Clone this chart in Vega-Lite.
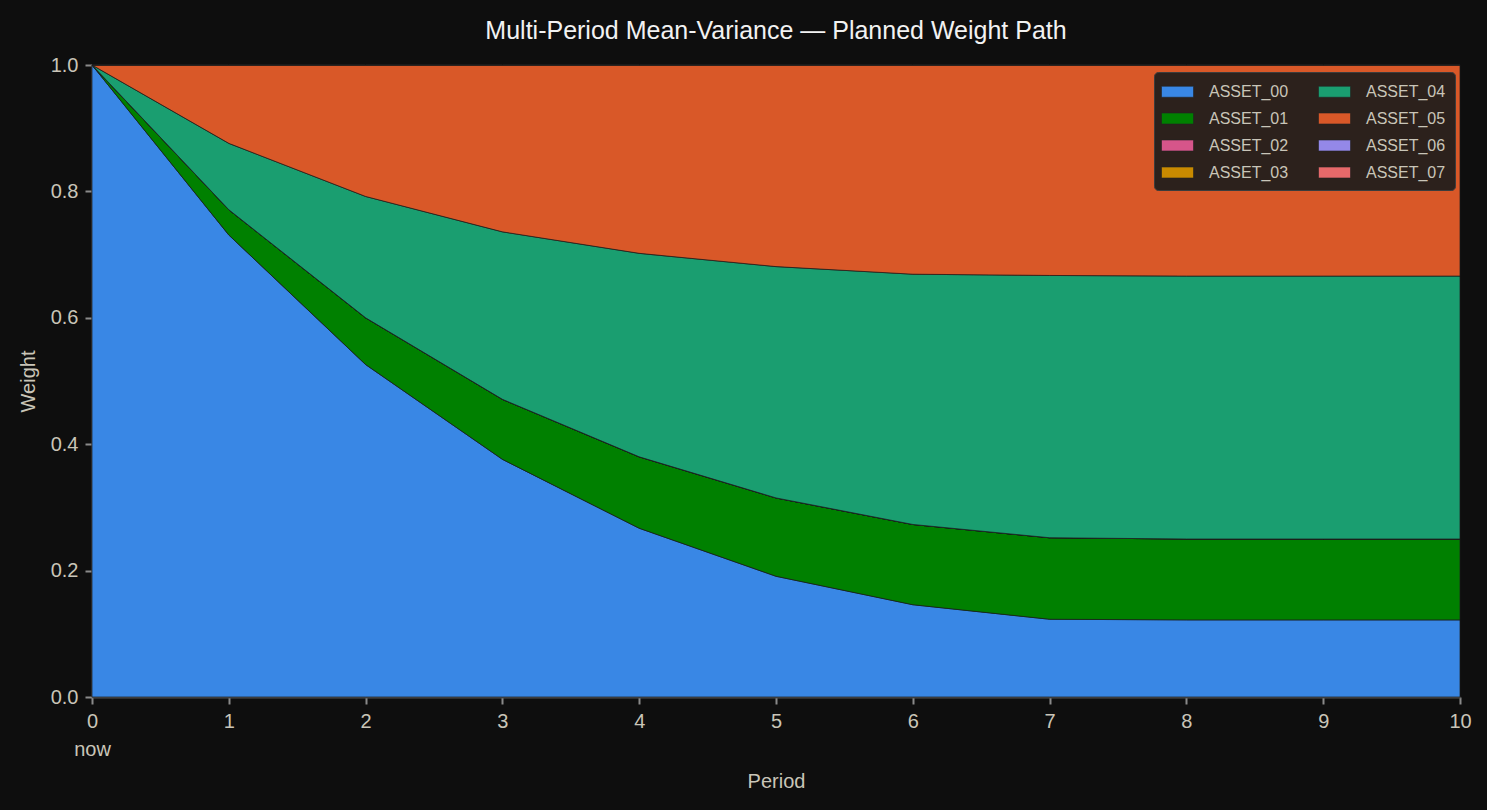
{
  "$schema": "https://vega.github.io/schema/vega-lite/v6.json",
  "autosize": "none",
  "width": 1368,
  "height": 632,
  "padding": {"left": 92, "top": 65, "right": 27, "bottom": 113},
  "background": "#0e0e0e",
  "config": {
    "font": "Liberation Sans",
    "view": {"stroke": null},
    "axis": {
      "domainColor": "#505050",
      "domainWidth": 2,
      "tickColor": "#8a8a8a",
      "tickWidth": 2,
      "tickSize": 7,
      "labelColor": "#c9c5b8",
      "labelFontSize": 20,
      "titleColor": "#c9c5b8",
      "titleFontSize": 20,
      "titleFontWeight": "normal",
      "grid": false
    }
  },
  "title": {
    "text": "Multi-Period Mean-Variance — Planned Weight Path",
    "anchor": "middle",
    "color": "#f2f2f2",
    "fontSize": 25,
    "fontWeight": "normal",
    "offset": 11
  },
  "data": {
    "values": [
      {"period": 0, "asset": "ASSET_00", "weight": 1.0},
      {"period": 0, "asset": "ASSET_01", "weight": 0.0},
      {"period": 0, "asset": "ASSET_02", "weight": 0.0},
      {"period": 0, "asset": "ASSET_03", "weight": 0.0},
      {"period": 0, "asset": "ASSET_04", "weight": 0.0},
      {"period": 0, "asset": "ASSET_05", "weight": 0.0},
      {"period": 0, "asset": "ASSET_06", "weight": 0.0},
      {"period": 0, "asset": "ASSET_07", "weight": 0.0},
      {"period": 1, "asset": "ASSET_00", "weight": 0.731},
      {"period": 1, "asset": "ASSET_01", "weight": 0.040},
      {"period": 1, "asset": "ASSET_02", "weight": 0.0},
      {"period": 1, "asset": "ASSET_03", "weight": 0.0},
      {"period": 1, "asset": "ASSET_04", "weight": 0.105},
      {"period": 1, "asset": "ASSET_05", "weight": 0.124},
      {"period": 1, "asset": "ASSET_06", "weight": 0.0},
      {"period": 1, "asset": "ASSET_07", "weight": 0.0},
      {"period": 2, "asset": "ASSET_00", "weight": 0.526},
      {"period": 2, "asset": "ASSET_01", "weight": 0.074},
      {"period": 2, "asset": "ASSET_02", "weight": 0.0},
      {"period": 2, "asset": "ASSET_03", "weight": 0.0},
      {"period": 2, "asset": "ASSET_04", "weight": 0.192},
      {"period": 2, "asset": "ASSET_05", "weight": 0.208},
      {"period": 2, "asset": "ASSET_06", "weight": 0.0},
      {"period": 2, "asset": "ASSET_07", "weight": 0.0},
      {"period": 3, "asset": "ASSET_00", "weight": 0.376},
      {"period": 3, "asset": "ASSET_01", "weight": 0.095},
      {"period": 3, "asset": "ASSET_02", "weight": 0.0},
      {"period": 3, "asset": "ASSET_03", "weight": 0.0},
      {"period": 3, "asset": "ASSET_04", "weight": 0.265},
      {"period": 3, "asset": "ASSET_05", "weight": 0.264},
      {"period": 3, "asset": "ASSET_06", "weight": 0.0},
      {"period": 3, "asset": "ASSET_07", "weight": 0.0},
      {"period": 4, "asset": "ASSET_00", "weight": 0.267},
      {"period": 4, "asset": "ASSET_01", "weight": 0.113},
      {"period": 4, "asset": "ASSET_02", "weight": 0.0},
      {"period": 4, "asset": "ASSET_03", "weight": 0.0},
      {"period": 4, "asset": "ASSET_04", "weight": 0.322},
      {"period": 4, "asset": "ASSET_05", "weight": 0.298},
      {"period": 4, "asset": "ASSET_06", "weight": 0.0},
      {"period": 4, "asset": "ASSET_07", "weight": 0.0},
      {"period": 5, "asset": "ASSET_00", "weight": 0.191},
      {"period": 5, "asset": "ASSET_01", "weight": 0.124},
      {"period": 5, "asset": "ASSET_02", "weight": 0.0},
      {"period": 5, "asset": "ASSET_03", "weight": 0.0},
      {"period": 5, "asset": "ASSET_04", "weight": 0.366},
      {"period": 5, "asset": "ASSET_05", "weight": 0.319},
      {"period": 5, "asset": "ASSET_06", "weight": 0.0},
      {"period": 5, "asset": "ASSET_07", "weight": 0.0},
      {"period": 6, "asset": "ASSET_00", "weight": 0.146},
      {"period": 6, "asset": "ASSET_01", "weight": 0.127},
      {"period": 6, "asset": "ASSET_02", "weight": 0.0},
      {"period": 6, "asset": "ASSET_03", "weight": 0.0},
      {"period": 6, "asset": "ASSET_04", "weight": 0.396},
      {"period": 6, "asset": "ASSET_05", "weight": 0.331},
      {"period": 6, "asset": "ASSET_06", "weight": 0.0},
      {"period": 6, "asset": "ASSET_07", "weight": 0.0},
      {"period": 7, "asset": "ASSET_00", "weight": 0.123},
      {"period": 7, "asset": "ASSET_01", "weight": 0.129},
      {"period": 7, "asset": "ASSET_02", "weight": 0.0},
      {"period": 7, "asset": "ASSET_03", "weight": 0.0},
      {"period": 7, "asset": "ASSET_04", "weight": 0.415},
      {"period": 7, "asset": "ASSET_05", "weight": 0.333},
      {"period": 7, "asset": "ASSET_06", "weight": 0.0},
      {"period": 7, "asset": "ASSET_07", "weight": 0.0},
      {"period": 8, "asset": "ASSET_00", "weight": 0.122},
      {"period": 8, "asset": "ASSET_01", "weight": 0.128},
      {"period": 8, "asset": "ASSET_02", "weight": 0.0},
      {"period": 8, "asset": "ASSET_03", "weight": 0.0},
      {"period": 8, "asset": "ASSET_04", "weight": 0.416},
      {"period": 8, "asset": "ASSET_05", "weight": 0.334},
      {"period": 8, "asset": "ASSET_06", "weight": 0.0},
      {"period": 8, "asset": "ASSET_07", "weight": 0.0},
      {"period": 9, "asset": "ASSET_00", "weight": 0.122},
      {"period": 9, "asset": "ASSET_01", "weight": 0.128},
      {"period": 9, "asset": "ASSET_02", "weight": 0.0},
      {"period": 9, "asset": "ASSET_03", "weight": 0.0},
      {"period": 9, "asset": "ASSET_04", "weight": 0.416},
      {"period": 9, "asset": "ASSET_05", "weight": 0.334},
      {"period": 9, "asset": "ASSET_06", "weight": 0.0},
      {"period": 9, "asset": "ASSET_07", "weight": 0.0},
      {"period": 10, "asset": "ASSET_00", "weight": 0.122},
      {"period": 10, "asset": "ASSET_01", "weight": 0.128},
      {"period": 10, "asset": "ASSET_02", "weight": 0.0},
      {"period": 10, "asset": "ASSET_03", "weight": 0.0},
      {"period": 10, "asset": "ASSET_04", "weight": 0.416},
      {"period": 10, "asset": "ASSET_05", "weight": 0.334},
      {"period": 10, "asset": "ASSET_06", "weight": 0.0},
      {"period": 10, "asset": "ASSET_07", "weight": 0.0}
    ]
  },
  "mark": {"type": "area", "stroke": "#1c1c1c", "strokeWidth": 0.8, "strokeOpacity": 0.9, "opacity": 1},
  "encoding": {
    "x": {
      "field": "period",
      "type": "quantitative",
      "title": "Period",
      "scale": {"domain": [0, 10], "nice": false, "zero": false},
      "axis": {
        "values": [0, 1, 2, 3, 4, 5, 6, 7, 8, 9, 10],
        "labelExpr": "datum.value == 0 ? ['0', 'now'] : datum.label",
        "labelFlush": false,
        "labelPadding": 7,
        "labelLineHeight": 28,
        "titlePadding": 12
      }
    },
    "y": {
      "field": "weight",
      "type": "quantitative",
      "aggregate": "sum",
      "stack": "zero",
      "title": "Weight",
      "scale": {"domain": [0, 1], "nice": false},
      "axis": {
        "values": [0, 0.2, 0.4, 0.6, 0.8, 1.0],
        "format": ".1f",
        "labelFlush": false,
        "labelPadding": 7,
        "titlePadding": 12
      }
    },
    "color": {
      "field": "asset",
      "type": "nominal",
      "scale": {
        "domain": ["ASSET_00", "ASSET_01", "ASSET_02", "ASSET_03", "ASSET_04", "ASSET_05", "ASSET_06", "ASSET_07"],
        "range": ["#3987e5", "#008000", "#d6558a", "#c98a00", "#1a9e70", "#d95828", "#9488e8", "#e6696a"]
      },
      "legend": {
        "title": null,
        "orient": "none",
        "legendX": 1062,
        "legendY": 7,
        "columns": 2,
        "fillColor": "#2c211c",
        "strokeColor": "#3c3c3c",
        "cornerRadius": 4,
        "padding": 9,
        "symbolType": "M-1.6,-0.55H1.6V0.55H-1.6Z",
        "symbolSize": 400,
        "symbolOffset": 4,
        "symbolStrokeWidth": 0.6,
        "symbolStrokeColor": "#222222",
        "labelColor": "#c9c5b8",
        "labelFontSize": 16,
        "labelOffset": 21,
        "rowPadding": 8,
        "columnPadding": 28
      }
    },
    "order": {"field": "asset", "sort": "ascending"}
  }
}
